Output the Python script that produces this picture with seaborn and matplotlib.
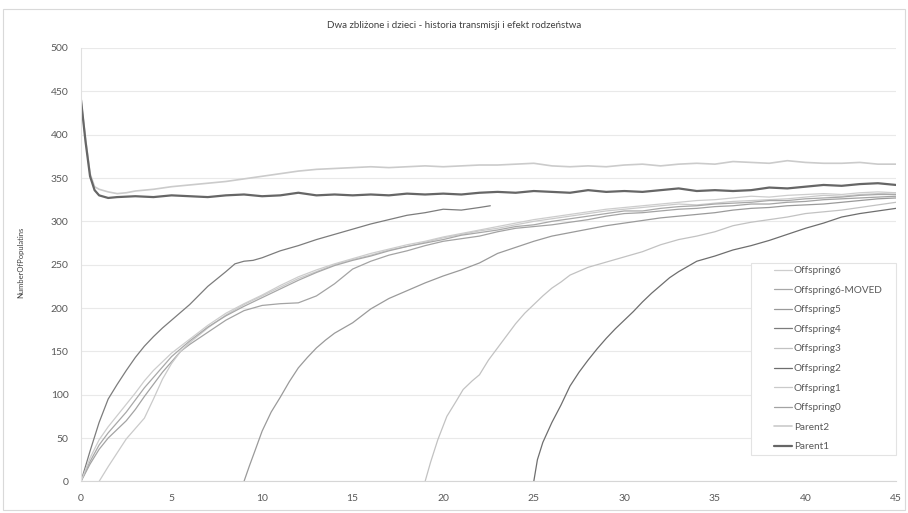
import pandas as pd
import seaborn as sns
import matplotlib.pyplot as plt
from matplotlib.patches import Rectangle

# values (time, NumberOfPopulations)
parent1_t = [0, 0.25, 0.5, 0.75, 1, 1.5, 2, 3, 4, 5, 6, 7, 8, 9, 10, 11, 12, 13, 14, 15, 16, 17, 18, 19, 20,
             21, 22, 23, 24, 25, 26, 27, 28, 29, 30, 31, 32, 33, 34, 35, 36, 37, 38, 39, 40, 41, 42, 43, 44, 45]
parent1_v = [440, 392, 352, 336, 330, 327, 328, 329, 328, 330, 329, 328, 330, 331, 329, 330, 333, 330, 331, 330,
             331, 330, 332, 331, 332, 331, 333, 334, 333, 335, 334, 333, 336, 334, 335, 334, 336, 338, 335, 336,
             335, 336, 339, 338, 340, 342, 341, 343, 344, 342]

parent2_t = [0, 0.25, 0.5, 0.75, 1, 1.5, 2, 2.5, 3, 4, 5, 6, 7, 8, 9, 10, 11, 12, 13, 14, 15, 16, 17, 18, 19, 20,
             21, 22, 23, 24, 25, 26, 27, 28, 29, 30, 31, 32, 33, 34, 35, 36, 37, 38, 39, 40, 41, 42, 43, 44, 45]
parent2_v = [440, 395, 355, 340, 337, 334, 332, 333, 335, 337, 340, 342, 344, 346, 349, 352, 355, 358, 360, 361,
             362, 363, 362, 363, 364, 363, 364, 365, 365, 366, 367, 364, 363, 364, 363, 365, 366, 364, 366, 367,
             366, 369, 368, 367, 370, 368, 367, 367, 368, 366, 366]

off4_t = [0, 0.5, 1, 1.5, 2, 2.5, 3, 3.5, 4, 4.5, 5, 6, 7, 8, 8.5, 9, 9.5, 10, 10.5, 11, 12, 13, 14, 15, 16, 17,
          18, 19, 20, 21, 22, 22.6]
off4_v = [0, 35, 68, 95, 112, 128, 143, 156, 167, 177, 186, 204, 225, 242, 251, 254, 255, 258, 262, 266, 272, 279,
          285, 291, 297, 302, 307, 310, 314, 313, 316, 318]

off5_t = [9, 9.3, 9.6, 10, 10.5, 11, 11.5, 12, 12.5, 13, 13.5, 14, 15, 16, 17, 18, 19, 20, 21, 22, 23, 24, 25, 26,
          27, 28, 29, 30, 31, 32, 33, 34, 35, 36, 37, 38, 39, 40, 41, 42, 43, 44, 45]
off5_v = [0, 18, 35, 58, 80, 97, 115, 131, 143, 154, 163, 171, 183, 199, 211, 220, 229, 237, 244, 252, 263, 270,
          277, 283, 287, 291, 295, 298, 301, 304, 306, 308, 310, 313, 315, 316, 318, 319, 320, 322, 324, 326, 327]

off3_t = [19, 19.3, 19.7, 20.2, 20.7, 21.1, 21.6, 22, 22.5, 23, 23.5, 24, 24.5, 25, 25.5, 26, 26.5, 27, 28, 29, 30,
          31, 32, 33, 34, 35, 36, 37, 38, 39, 40, 41, 42, 43, 44, 45]
off3_v = [0, 22, 48, 75, 92, 106, 116, 123, 140, 154, 168, 182, 194, 204, 214, 223, 230, 238, 247, 253, 259, 265,
          273, 279, 283, 288, 295, 299, 302, 305, 309, 311, 313, 316, 319, 322]

off2_t = [25, 25.2, 25.5, 26, 26.5, 27, 27.5, 28, 28.5, 29, 29.5, 30, 30.5, 31, 31.5, 32, 32.5, 33, 33.5, 34, 35,
          36, 37, 38, 39, 40, 41, 42, 43, 44, 45]
off2_v = [0, 25, 45, 68, 88, 110, 126, 140, 153, 165, 176, 186, 196, 207, 217, 226, 235, 242, 248, 254, 260, 267,
          272, 278, 285, 292, 298, 305, 309, 312, 315]

bundle_t = [0, 0.5, 1, 1.5, 2, 2.5, 3, 3.5, 4, 4.5, 5, 5.5, 6, 7, 8, 9, 10, 11, 12, 13, 14, 15, 16, 17, 18, 19,
            20, 21, 22, 23, 24, 25, 26, 27, 28, 29, 30, 31, 32, 33, 34, 35, 36, 37, 38, 39, 40, 41, 42, 43, 44, 45]
off0_v = [0, 20, 37, 50, 60, 70, 83, 98, 112, 126, 138, 150, 158, 172, 186, 197, 203, 205, 206, 214, 228, 245,
          254, 261, 266, 272, 277, 280, 283, 288, 292, 294, 296, 299, 302, 306, 309, 310, 312, 314, 315, 317, 318,
          320, 320, 322, 323, 325, 326, 327, 328, 329]
off6_v = [0, 27, 48, 63, 76, 89, 102, 116, 128, 138, 148, 156, 164, 180, 194, 205, 215, 226, 236, 244, 251, 257,
          263, 268, 273, 277, 282, 286, 290, 294, 298, 302, 305, 308, 311, 314, 316, 318, 320, 322, 324, 325, 327,
          329, 328, 330, 331, 332, 331, 333, 334, 333]
off6m_v = [0, 23, 42, 56, 68, 80, 94, 108, 120, 132, 144, 153, 162, 178, 191, 202, 212, 222, 232, 241, 249, 255,
           260, 266, 271, 275, 279, 284, 287, 290, 294, 296, 300, 303, 306, 309, 312, 312, 315, 317, 318, 320, 321,
           322, 324, 324, 326, 327, 328, 330, 331, 331]

off1_t = [1, 1.5, 2, 2.5, 3, 3.5, 4, 4.5, 5, 5.5, 6, 7, 8, 9, 10, 11, 12, 13, 14, 15, 16, 17, 18, 19, 20, 21, 22,
          23, 24, 25, 26, 27, 28, 29, 30, 31, 32, 33, 34, 35, 36, 37, 38, 39, 40, 41, 42, 43, 44, 45]
off1_v = [0, 17, 33, 49, 61, 73, 95, 118, 136, 150, 160, 177, 192, 204, 214, 224, 234, 242, 250, 256, 261, 267,
          271, 276, 281, 285, 289, 292, 296, 300, 303, 306, 309, 312, 314, 316, 318, 320, 319, 321, 323, 324, 325,
          326, 328, 330, 329, 331, 332, 333]

series = [
    ('Offspring0', bundle_t, off0_v, '#a3a3a3', 0.9),
    ('Offspring1', off1_t, off1_v, '#cacaca', 0.9),
    ('Offspring2', off2_t, off2_v, '#6e6e6e', 0.9),
    ('Offspring3', off3_t, off3_v, '#c2c2c2', 0.9),
    ('Offspring4', off4_t, off4_v, '#7c7c7c', 0.9),
    ('Offspring5', off5_t, off5_v, '#9a9a9a', 0.9),
    ('Offspring6-MOVED', bundle_t, off6m_v, '#a8a8a8', 0.9),
    ('Offspring6', bundle_t, off6_v, '#cdcdcd', 0.9),
    ('Parent2', parent2_t, parent2_v, '#cbcbcb', 1.2),
    ('Parent1', parent1_t, parent1_v, '#666666', 1.6),
]
legend_order = ['Offspring6', 'Offspring6-MOVED', 'Offspring5', 'Offspring4', 'Offspring3',
                'Offspring2', 'Offspring1', 'Offspring0', 'Parent2', 'Parent1']

sns.set_style('white')
plt.rcParams['font.family'] = ['Lato', 'DejaVu Sans']

fig = plt.figure(figsize=(9.08, 5.13), dpi=100)
ax = fig.add_axes([81 / 908, 1 - 481.4 / 513, (896 - 81) / 908, (481.4 - 48) / 513])

for name, t, v, col, lw in series:
    df = pd.DataFrame({'t': t, 'v': v})
    sns.lineplot(x='t', y='v', data=df, color=col, linewidth=lw, label=name, ax=ax,
                 estimator=None, sort=False)

ax.set_xlim(0, 45)
ax.set_ylim(0, 500)
ax.set_xticks(range(0, 46, 5))
ax.set_yticks(range(0, 501, 50))
ax.grid(axis='y', color='#e9e9e9', linewidth=0.8)
ax.set_axisbelow(True)
for s in ['top', 'right']:
    ax.spines[s].set_visible(False)
ax.spines['left'].set_color('#e0e0e0')
ax.spines['bottom'].set_color('#d6d6d6')
ax.tick_params(length=0, labelsize=7.5, colors='#595959', pad=9)
ax.set_xlabel('')
ax.set_ylabel('')

fig.text(0.5, 1 - 26 / 513, 'Dwa zbliżone i dzieci - historia transmisji i efekt rodzeństwa',
         ha='center', va='center', fontsize=7, color='#404040')
fig.text(21 / 908, 1 - 262 / 513, 'NumberOfPopulatins', rotation=90, ha='center', va='center',
         fontsize=5.5, color='#404040')

# legend: box drawn separately, entries indented like the reference
handles, labels = ax.get_legend_handles_labels()
hmap = dict(zip(labels, handles))
leg = ax.legend([hmap[n] for n in legend_order], legend_order,
                loc='upper left', bbox_to_anchor=(774 / 908, 1 - 266 / 513), bbox_transform=fig.transFigure,
                fontsize=7.2, frameon=False, handlelength=1.8, handletextpad=0.2,
                labelspacing=1.06, borderpad=0, borderaxespad=0)
for txt in leg.get_texts():
    txt.set_color('#595959')
leg.set_zorder(6)
box = Rectangle((751 / 908, 1 - 455 / 513), 145 / 908, 192 / 513, transform=fig.transFigure,
                facecolor='white', edgecolor='#e3e3e3', linewidth=0.8, zorder=5, clip_on=False)
ax.add_artist(box)

fig.patches.append(Rectangle((3 / 908, 3 / 513), 902 / 908, 501 / 513, transform=fig.transFigure,
                             fill=False, edgecolor='#d9d9d9', linewidth=0.8))

fig.savefig('out.png', dpi=100)
